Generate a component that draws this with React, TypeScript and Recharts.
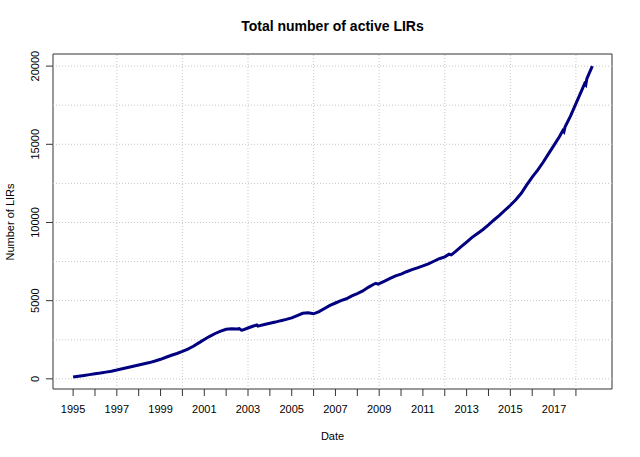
import { LineChart, Line, XAxis, YAxis, ReferenceLine, ReferenceArea } from 'recharts';

const dates = [
  1995.0, 1995.25, 1995.5, 1995.75, 1996.0, 1996.25, 1996.5, 1996.75,
  1997.0, 1997.25, 1997.5, 1997.75, 1998.0, 1998.25, 1998.5, 1998.75,
  1999.0, 1999.25, 1999.5, 1999.75, 2000.0, 2000.25, 2000.5, 2000.75,
  2001.0, 2001.25, 2001.5, 2001.75, 2002.0, 2002.25, 2002.5, 2002.6, 2002.7, 2002.75,
  2003.0, 2003.25, 2003.4, 2003.45, 2003.5, 2003.75,
  2004.0, 2004.25, 2004.5, 2004.75, 2005.0, 2005.25, 2005.5, 2005.75,
  2006.0, 2006.25, 2006.5, 2006.75, 2007.0, 2007.25, 2007.5, 2007.75,
  2008.0, 2008.25, 2008.5, 2008.75, 2008.85, 2008.95, 2009.0, 2009.25, 2009.5, 2009.75,
  2010.0, 2010.25, 2010.5, 2010.75, 2011.0, 2011.25, 2011.5, 2011.75,
  2012.0, 2012.2, 2012.3, 2012.5, 2012.75, 2013.0, 2013.25, 2013.5, 2013.75,
  2014.0, 2014.25, 2014.5, 2014.75, 2015.0, 2015.25, 2015.5, 2015.75,
  2016.0, 2016.25, 2016.5, 2016.75, 2017.0, 2017.25, 2017.4, 2017.45, 2017.5, 2017.75,
  2018.0, 2018.25, 2018.4, 2018.45, 2018.5, 2018.75,
];

const activeLirs = [
  120, 170, 220, 270, 320, 370, 430, 490,
  560, 640, 720, 800, 880, 960, 1040, 1140,
  1250, 1380, 1510, 1620, 1750, 1900, 2080, 2300,
  2520, 2720, 2900, 3050, 3170, 3200, 3190, 3210, 3110, 3120,
  3250, 3380, 3440, 3370, 3390, 3480,
  3560, 3630, 3720, 3800, 3900, 4050, 4190, 4230,
  4160, 4300, 4500, 4700, 4850, 5000, 5120, 5300,
  5450, 5620, 5850, 6050, 6110, 6060, 6090, 6250, 6420, 6580,
  6700, 6850, 6980, 7100, 7220, 7350, 7520, 7680,
  7800, 7970, 7930, 8150, 8450, 8750, 9050, 9300, 9550,
  9850, 10160, 10450, 10780, 11100, 11450, 11870, 12400,
  12900, 13350, 13850, 14400, 14950, 15500, 15880, 15800, 16100, 16800,
  17600, 18400, 18880, 18800, 19200, 20000,
];

const yearTicks = [
  1995, 1996, 1997, 1998, 1999, 2000, 2001, 2002, 2003, 2004, 2005, 2006,
  2007, 2008, 2009, 2010, 2011, 2012, 2013, 2014, 2015, 2016, 2017, 2018,
];
const valueTicks = [0, 5000, 10000, 15000, 20000];
const gridYears = [1997, 2000, 2003, 2006, 2009, 2012, 2015, 2018];
const gridValues = [0, 2500, 5000, 7500, 10000, 12500, 15000, 17500, 20000];

const xDomain = [1994.08, 2019.65];
const yDomain = [-650, 20775];

const font = '"Liberation Sans", Arial, Helvetica, sans-serif';

const data = dates.map((t, i) => ({ t, lirs: activeLirs[i] }));

function YTick(props: any) {
  const { x, y, payload } = props;
  return (
    <text
      x={x}
      y={y}
      transform={`rotate(-90, ${x}, ${y})`}
      textAnchor="middle"
      fontSize={11}
      fontFamily={font}
      fill="#000"
    >
      {payload.value}
    </text>
  );
}

export default function App() {
  return (
    <div style={{ position: 'absolute', left: 0, top: 0, width: 640, height: 457, background: '#fff', fontFamily: font }}>
      <div style={{ position: 'absolute', left: 53, width: 559, top: 18, textAlign: 'center', fontSize: 14, lineHeight: '16px', fontWeight: 'bold', color: '#000' }}>
        Total number of active LIRs
      </div>
      <div style={{ position: 'absolute', left: 53, width: 559, top: 430, textAlign: 'center', fontSize: 11, lineHeight: '12px', color: '#000' }}>
        Date
      </div>
      <div style={{ position: 'absolute', left: 10, top: 222, width: 0, height: 0 }}>
        <div style={{ position: 'absolute', left: -60, top: -6, width: 120, textAlign: 'center', fontSize: 11, lineHeight: '12px', color: '#000', transform: 'rotate(-90deg)' }}>
          Number of LIRs
        </div>
      </div>
      <LineChart width={640} height={457} data={data} margin={{ top: 54, right: 28, bottom: 0, left: 0 }}>
        <XAxis
          dataKey="t"
          type="number"
          domain={xDomain}
          ticks={yearTicks}
          interval={0}
          height={68}
          axisLine={false}
          tickSize={7}
          tickMargin={9}
          tickLine={{ stroke: '#333' }}
          tickFormatter={(v: number) => (v % 2 === 1 ? String(v) : '')}
          tick={{ fontSize: 11, fontFamily: font, fill: '#000' }}
          allowDataOverflow
        />
        <YAxis
          type="number"
          domain={yDomain}
          ticks={valueTicks}
          interval={0}
          width={53}
          axisLine={false}
          tickSize={7}
          tickMargin={7}
          tickLine={{ stroke: '#333' }}
          tick={<YTick />}
          allowDataOverflow
        />
        {gridYears.map((g) => (
          <ReferenceLine key={'gx' + g} x={g} stroke="#c8c8c8" strokeDasharray="1 2" strokeWidth={1} />
        ))}
        {gridValues.map((g) => (
          <ReferenceLine key={'gy' + g} y={g} stroke="#c8c8c8" strokeDasharray="1 2" strokeWidth={1} />
        ))}
        <ReferenceArea x1={xDomain[0]} x2={xDomain[1]} y1={yDomain[0]} y2={yDomain[1]} fill="none" stroke="#333" strokeWidth={1} />
        <Line
          type="linear"
          dataKey="lirs"
          stroke="#000080"
          strokeWidth={3}
          dot={false}
          isAnimationActive={false}
        />
      </LineChart>
    </div>
  );
}
